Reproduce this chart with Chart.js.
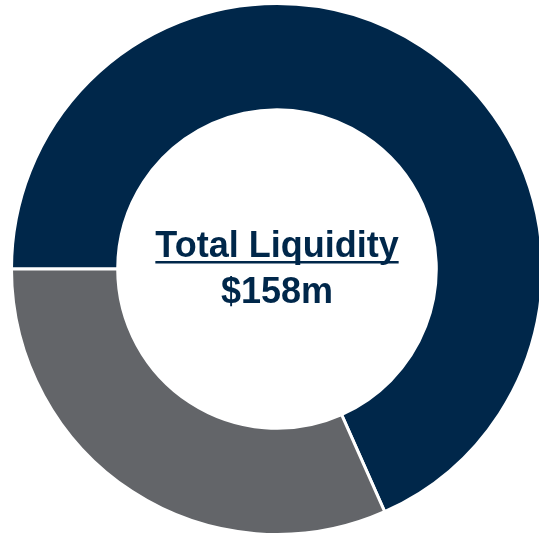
<!DOCTYPE html>
<html>
<head>
    <title>Total Liquidity</title>
    <style>
    html, body {
        margin: 0;
        padding: 0;
        background: #FFFFFF;
        overflow: hidden;
        width: 539px;
        height: 534px;
    }

    .wrap {
        position: absolute;
        left: 10px;
        top: 2px;
        width: 534px;
        height: 534px;
    }
    </style>
    <script src="https://cdn.jsdelivr.net/npm/chart.js"></script>
</head>
<body>
    <div class="wrap">
        <canvas id="liquidity-chart"></canvas>
    </div>
    <script>
        // values in $m (total 158)
        const labels = ['Navy portion', 'Grey portion'];
        const values = [108, 50];
        const colours = ['#00274A', '#636569'];
        const centreLines = ['Total Liquidity', '$158m'];

        // writes the label in the hole of the ring
        const centreText = {
            id: 'centreText',
            afterDraw(chart) {
                const arc = chart.getDatasetMeta(0).data[0];
                if (!arc) return;
                const ctx = chart.ctx;
                const cx = arc.x;
                const cy = arc.y;
                ctx.save();
                ctx.fillStyle = '#00274A';
                ctx.font = 'bold 36px "Liberation Sans", Arial, sans-serif';
                ctx.textAlign = 'center';
                ctx.textBaseline = 'alphabetic';

                ctx.fillText(centreLines[0], cx, cy - 12);
                const w = ctx.measureText(centreLines[0]).width;
                ctx.fillRect(cx - w / 2, cy - 8, w, 2.5);

                ctx.fillText(centreLines[1], cx, cy + 34);
                ctx.restore();
            }
        };

        var ctx = document.getElementById('liquidity-chart').getContext('2d');
        var chart = new Chart(ctx, {
            type: 'doughnut',
            data: {
                labels: labels,
                datasets: [{
                    data: values,
                    backgroundColor: colours,
                    borderColor: '#FFFFFF',
                    borderWidth: 3
                }]
            },
            options: {
                responsive: true,
                maintainAspectRatio: false,
                animation: false,
                rotation: -90,
                cutout: '60%',
                layout: { padding: 0 },
                plugins: {
                    legend: { display: false },
                    tooltip: { enabled: true }
                }
            },
            plugins: [centreText]
        });
    </script>
</body>
</html>
